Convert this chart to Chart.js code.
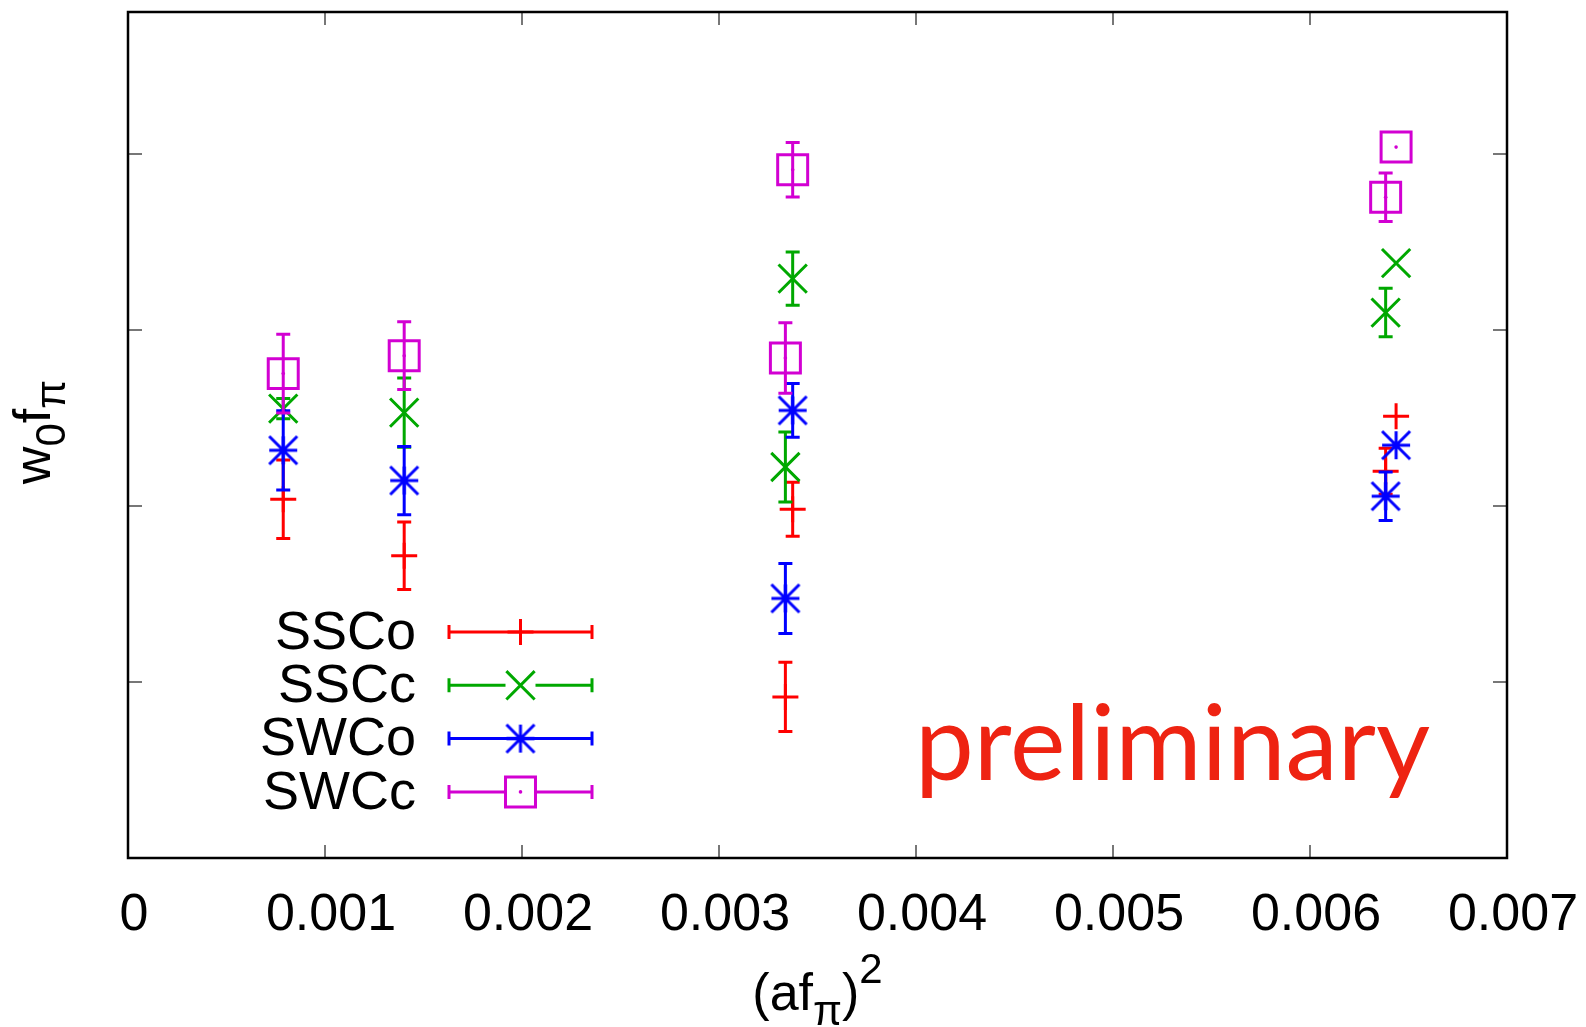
<!DOCTYPE html>
<html>
<head>
<meta charset="utf-8">
<script src="https://cdn.jsdelivr.net/npm/chart.js@4.4.1/dist/chart.umd.min.js"></script>
<style>
    html, body { margin: 0; padding: 0; background: #fff; }
    #wrap { width: 1586px; height: 1027px; position: relative; }
</style>
</head>
<body>
<div id="wrap"><canvas id="chart"></canvas></div>
<script>
// (af_pi)^2 positions, shared by every series
const xValues = [0.000788, 0.001402, 0.003337, 0.003374, 0.006384, 0.006437];

// w0 f_pi values and errors (y tick labels are not printed in the original, units are arbitrary)
// null error = point drawn without error bar
const sscoValues = [0.32040, 0.31718, 0.30916, 0.31983, 0.32199, 0.32511];
const sscoErrors = [0.00223, 0.00192, 0.00197, 0.00154, 0.00131, null];
const ssccValues = [0.32555, 0.32532, 0.32223, 0.33294, 0.33101, 0.33382];
const ssccErrors = [0.00057, 0.00197, 0.00199, 0.00152, 0.00138, null];
const swcoValues = [0.32318, 0.32146, 0.31476, 0.32545, 0.32057, 0.32347];
const swcoErrors = [0.00225, 0.00194, 0.00199, 0.00153, 0.00138, null];
const swccValues = [0.32754, 0.32856, 0.32843, 0.33913, 0.33757, 0.34042];
const swccErrors = [0.00224, 0.00193, 0.00200, 0.00155, 0.00138, null];

const seriesLabels = ['SSCo', 'SSCc', 'SWCo', 'SWCc'];
const xTickLabels = ['0', '0.001', '0.002', '0.003', '0.004', '0.005', '0.006', '0.007'];

const FONT = "'Liberation Sans', Arial, Helvetica, sans-serif";
const colors = ['#ff0000', '#00a800', '#0000ff', '#d200d2'];

function makeStar(color) {
    const c = document.createElement('canvas');
    const s = 34;
    c.width = s;
    c.height = s;
    const g = c.getContext('2d');
    const m = s / 2, r = 14;
    g.strokeStyle = color;
    g.lineWidth = 3;
    g.beginPath();
    g.moveTo(m - r, m); g.lineTo(m + r, m);
    g.moveTo(m, m - r); g.lineTo(m, m + r);
    g.moveTo(m - r, m - r); g.lineTo(m + r, m + r);
    g.moveTo(m - r, m + r); g.lineTo(m + r, m - r);
    g.stroke();
    return c;
}

function points(values) {
    return values.map((v, i) => ({ x: xValues[i], y: v }));
}

const markers = [
    { style: 'cross', radius: 13 },
    { style: 'crossRot', radius: 20 },
    { style: makeStar(colors[2]), radius: 14 },
    { style: 'rect', radius: 21.2 }
];
const allValues = [sscoValues, ssccValues, swcoValues, swccValues];
const allErrors = [sscoErrors, ssccErrors, swcoErrors, swccErrors];

const datasets = seriesLabels.map((label, i) => ({
    label,
    data: points(allValues[i]),
    errors: allErrors[i],
    showLine: false,
    borderColor: colors[i],
    backgroundColor: 'rgba(0,0,0,0)',
    pointStyle: markers[i].style,
    pointRadius: markers[i].radius,
    pointHoverRadius: markers[i].radius,
    pointBorderWidth: 3,
    pointBorderColor: colors[i],
    pointBackgroundColor: 'rgba(0,0,0,0)',
    order: seriesLabels.length - i
}));

const CAP = 7;

// draws a string made of parts, some of them lowered (sub) or raised (sup)
function drawRich(ctx, parts, x, y, size) {
    const small = Math.round(size * 0.8);
    const fontFor = p => `${p.sub || p.sup ? small : size}px ${FONT}`;
    let total = 0;
    parts.forEach(p => {
        ctx.font = fontFor(p);
        total += ctx.measureText(p.t).width;
    });
    let cx = x - total / 2;
    ctx.textAlign = 'left';
    ctx.textBaseline = 'alphabetic';
    parts.forEach(p => {
        ctx.font = fontFor(p);
        let dy = 0;
        if (p.sub) dy = size * 0.28;
        if (p.sup) dy = -size * 0.52;
        ctx.fillText(p.t, cx, y + dy);
        cx += ctx.measureText(p.t).width;
    });
}

const gnuplotLook = {
    id: 'gnuplotLook',
    beforeDatasetsDraw(chart) {
        const { ctx, chartArea: a, scales } = chart;
        ctx.save();
        ctx.strokeStyle = '#777';
        ctx.lineWidth = 2;
        ctx.beginPath();
        scales.x.ticks.forEach(t => {
            const px = Math.round(scales.x.getPixelForValue(t.value));
            if (px <= a.left + 2 || px >= a.right - 2) return;
            ctx.moveTo(px, a.bottom); ctx.lineTo(px, a.bottom - 13);
            ctx.moveTo(px, a.top); ctx.lineTo(px, a.top + 13);
        });
        scales.y.ticks.forEach(t => {
            const py = Math.round(scales.y.getPixelForValue(t.value));
            if (py <= a.top + 2 || py >= a.bottom - 2) return;
            ctx.moveTo(a.left, py); ctx.lineTo(a.left + 14, py);
            ctx.moveTo(a.right, py); ctx.lineTo(a.right - 14, py);
        });
        ctx.stroke();
        ctx.strokeStyle = '#000';
        ctx.lineWidth = 2.5;
        ctx.strokeRect(a.left, a.top, a.right - a.left, a.bottom - a.top);
        ctx.restore();
    },
    beforeDatasetDraw(chart, args) {
        const ds = chart.data.datasets[args.index];
        const yScale = chart.scales.y;
        const ctx = chart.ctx;
        ctx.save();
        ctx.strokeStyle = ds.borderColor;
        ctx.lineWidth = 3;
        ctx.beginPath();
        args.meta.data.forEach((pt, i) => {
            const e = ds.errors[i];
            if (e == null) return;
            const v = ds.data[i].y;
            const top = yScale.getPixelForValue(v + e);
            const bot = yScale.getPixelForValue(v - e);
            ctx.moveTo(pt.x, top); ctx.lineTo(pt.x, bot);
            ctx.moveTo(pt.x - CAP, top); ctx.lineTo(pt.x + CAP, top);
            ctx.moveTo(pt.x - CAP, bot); ctx.lineTo(pt.x + CAP, bot);
        });
        ctx.stroke();
        ctx.restore();
    },
    afterDatasetDraw(chart, args) {
        const ds = chart.data.datasets[args.index];
        if (ds.pointStyle !== 'rect') return;
        const ctx = chart.ctx;
        ctx.save();
        ctx.fillStyle = ds.borderColor;
        args.meta.data.forEach(pt => {
            ctx.beginPath();
            ctx.arc(pt.x, pt.y, 1.8, 0, Math.PI * 2);
            ctx.fill();
        });
        ctx.restore();
    },
    afterDraw(chart) {
        const { ctx, chartArea: a } = chart;
        ctx.save();

        // legend, gnuplot style with error bar samples
        const rowTop = a.top + 620;
        chart.data.datasets.forEach((ds, i) => {
            const y = rowTop + i * 53.3;
            ctx.font = `54px ${FONT}`;
            ctx.textAlign = 'right';
            ctx.textBaseline = 'middle';
            ctx.fillStyle = '#000';
            ctx.fillText(ds.label, 416, y + 2);

            const x0 = 449, x1 = 592, xm = 520.5;
            const gap = (ds.pointStyle === 'rect' || ds.pointStyle === 'crossRot') ? 15 : 0;
            ctx.strokeStyle = ds.borderColor;
            ctx.lineWidth = 3;
            ctx.beginPath();
            ctx.moveTo(x0, y); ctx.lineTo(xm - gap, y);
            ctx.moveTo(xm + gap, y); ctx.lineTo(x1, y);
            ctx.moveTo(x0, y - CAP); ctx.lineTo(x0, y + CAP);
            ctx.moveTo(x1, y - CAP); ctx.lineTo(x1, y + CAP);
            ctx.stroke();
            const opts = chart.getDatasetMeta(i).data[0].options;
            ctx.fillStyle = 'rgba(0,0,0,0)';
            Chart.helpers.drawPoint(ctx, opts, xm, y);
            if (ds.pointStyle === 'rect') {
                ctx.fillStyle = ds.borderColor;
                ctx.beginPath();
                ctx.arc(xm, y, 1.8, 0, Math.PI * 2);
                ctx.fill();
            }
        });

        // axis titles
        ctx.fillStyle = '#000';
        drawRich(ctx, [{ t: '(af' }, { t: 'π', sub: true }, { t: ')' }, { t: '2', sup: true }],
            (a.left + a.right) / 2, 1010, 52);
        ctx.save();
        ctx.translate(50, (a.top + a.bottom) / 2 - 3);
        ctx.rotate(-Math.PI / 2);
        drawRich(ctx, [{ t: 'w' }, { t: '0', sub: true }, { t: 'f' }, { t: 'π', sub: true }], 0, 0, 52);
        ctx.restore();

        ctx.fillStyle = '#ee2312';
        ctx.font = `105px Lato, 'Open Sans', sans-serif`;
        ctx.textAlign = 'left';
        ctx.textBaseline = 'alphabetic';
        ctx.fillText('preliminary', 915, 780);
        ctx.restore();
    }
};

new Chart(document.getElementById('chart'), {
    type: 'scatter',
    data: { datasets },
    plugins: [gnuplotLook],
    options: {
        responsive: true,
        maintainAspectRatio: false,
        animation: false,
        devicePixelRatio: 1,
        layout: { autoPadding: false, padding: { top: 12, left: 128, right: 79, bottom: 0 } },
        plugins: {
            legend: { display: false },
            tooltip: { enabled: false }
        },
        scales: {
            x: {
                type: 'linear',
                min: 0,
                max: 0.007,
                grid: { display: false, drawTicks: false },
                border: { display: false },
                ticks: {
                    stepSize: 0.001,
                    padding: 26,
                    labelOffset: 6,
                    color: '#000',
                    font: { family: FONT, size: 52 },
                    maxRotation: 0,
                    autoSkip: false,
                    callback: (v, i) => xTickLabels[i]
                },
                afterFit: axis => {
                    axis.height = 169;
                    axis.paddingLeft = 0;
                    axis.paddingRight = 0;
                }
            },
            y: {
                type: 'linear',
                min: 0.30,
                max: 0.3481,
                grid: { display: false, drawTicks: false },
                border: { display: false },
                ticks: { display: false, stepSize: 0.01 },
                afterFit: axis => {
                    axis.width = 0;
                    axis.paddingTop = 0;
                    axis.paddingBottom = 0;
                }
            }
        }
    }
});
</script>
</body>
</html>
